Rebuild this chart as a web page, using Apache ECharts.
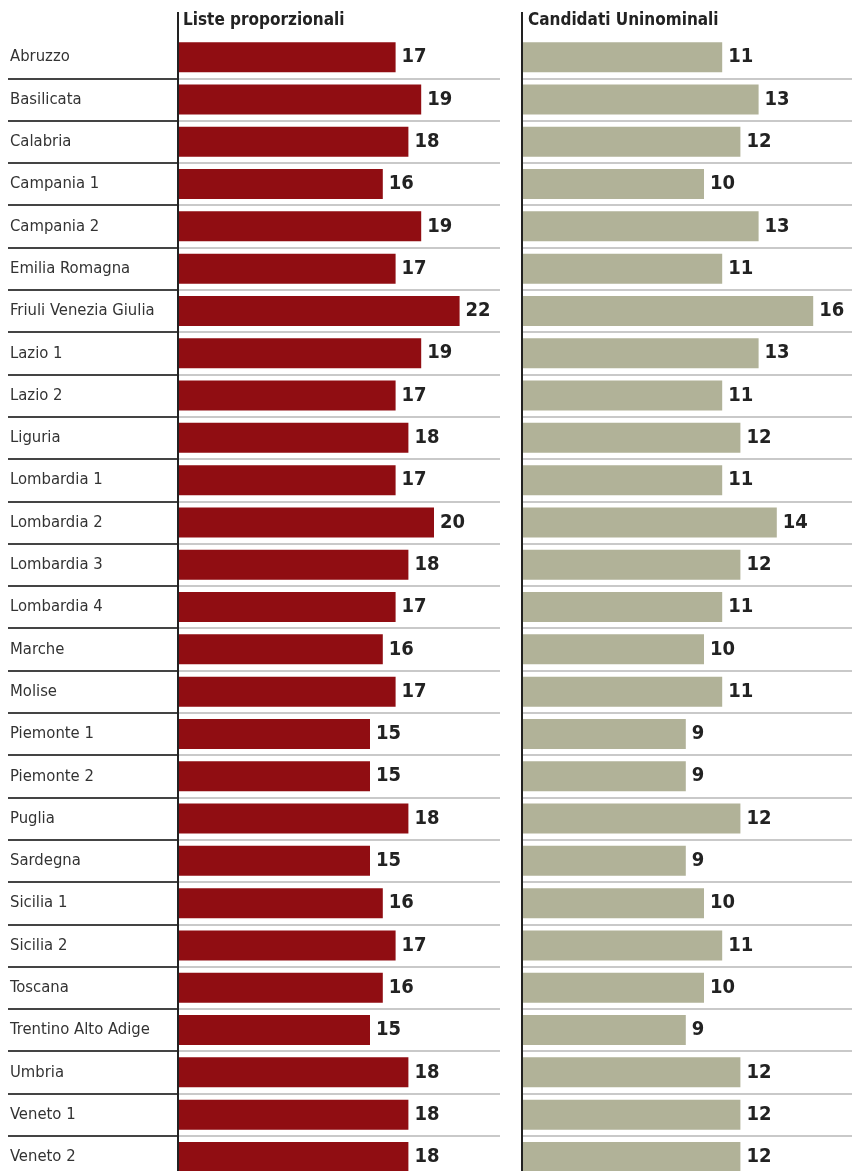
<!DOCTYPE html>
<html><head><meta charset="utf-8">
<script src="https://cdn.jsdelivr.net/npm/echarts@6/dist/echarts.min.js"></script>
<style>html,body{margin:0;padding:0;background:#fff}#c{width:852px;height:1171px}</style>
</head><body><div id="c"></div>
<script>
const regions = ["Abruzzo","Basilicata","Calabria","Campania 1","Campania 2","Emilia Romagna","Friuli Venezia Giulia","Lazio 1","Lazio 2","Liguria","Lombardia 1","Lombardia 2","Lombardia 3","Lombardia 4","Marche","Molise","Piemonte 1","Piemonte 2","Puglia","Sardegna","Sicilia 1","Sicilia 2","Toscana","Trentino Alto Adige","Umbria","Veneto 1","Veneto 2"];
const listeProporzionali = [17,19,18,16,19,17,22,19,17,18,17,20,18,17,16,17,15,15,18,15,16,17,16,15,18,18,18];
const candidatiUninominali = [11,13,12,10,13,11,16,13,11,12,11,14,12,11,10,11,9,9,12,9,10,11,10,9,12,12,12];
const panelTitles = ["Liste proporzionali","Candidati Uninominali"];

const FONT = "'Liberation Sans Narrow','DejaVu Sans Condensed',sans-serif";
const TOP = 36, ROW = 42.3, H = ROW * regions.length;
const chart = echarts.init(document.getElementById('c'), null, {renderer:'canvas'});
const valLabel = {show:true, position:'right', distance:6, color:'#222', fontFamily:FONT, fontWeight:'bold', fontSize:20};
chart.setOption({
  animation:false,
  title:[
    {text:panelTitles[0], left:183, top:12, padding:0, textStyle:{fontFamily:FONT, fontWeight:'bold', fontSize:17, color:'#222'}},
    {text:panelTitles[1], left:528, top:12, padding:0, textStyle:{fontFamily:FONT, fontWeight:'bold', fontSize:17, color:'#222'}}
  ],
  grid:[
    {left:178, width:322, top:TOP, height:H, outerBoundsMode:'none', containLabel:false},
    {left:522, width:330, top:TOP, height:H, outerBoundsMode:'none', containLabel:false}
  ],
  xAxis:[
    {gridIndex:0, type:'value', min:0, max:322/12.8, show:false},
    {gridIndex:1, type:'value', min:0, max:330/18.2, show:false}
  ],
  yAxis:[
    {gridIndex:0, type:'category', data:regions, inverse:true,
     axisLine:{show:false},
     axisTick:{show:true, length:170, interval:function(i){return i>0;}, lineStyle:{color:'#444', width:2}},
     axisLabel:{align:'left', margin:168, fontFamily:FONT, fontSize:16.5, color:'#333'},
     splitLine:{show:true, showMinLine:false, lineStyle:{color:'#c9c9c9', width:2}}},
    {gridIndex:1, type:'category', data:regions, inverse:true,
     axisLine:{show:false}, axisTick:{show:false}, axisLabel:{show:false},
     splitLine:{show:true, showMinLine:false, lineStyle:{color:'#c9c9c9', width:2}}}
  ],
  series:[
    {type:'bar', xAxisIndex:0, yAxisIndex:0, data:listeProporzionali, barWidth:30,
     itemStyle:{color:'#900d12'}, label:valLabel},
    {type:'bar', xAxisIndex:1, yAxisIndex:1, data:candidatiUninominali, barWidth:30,
     itemStyle:{color:'#b1b298'}, label:valLabel}
  ],
  graphic:[
    {type:'line', shape:{x1:178, y1:12, x2:178, y2:1171}, style:{stroke:'#222', lineWidth:2}, z:100},
    {type:'line', shape:{x1:522, y1:12, x2:522, y2:1171}, style:{stroke:'#222', lineWidth:2}, z:100}
  ]
});
</script></body></html>
